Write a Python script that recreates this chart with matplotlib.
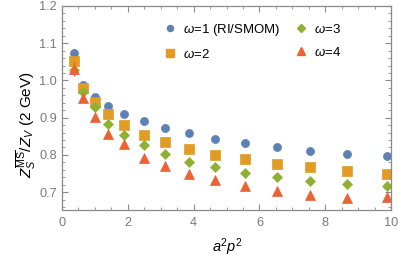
import matplotlib
matplotlib.use("Agg")
import matplotlib.pyplot as plt
from matplotlib.ticker import MultipleLocator, FormatStrFormatter
from matplotlib.lines import Line2D

plt.rcParams['font.family'] = ['Liberation Sans', 'DejaVu Sans']
plt.rcParams['mathtext.fontset'] = 'custom'
plt.rcParams['mathtext.rm'] = 'Liberation Sans'
plt.rcParams['mathtext.it'] = 'Liberation Sans:italic'
plt.rcParams['mathtext.bf'] = 'Liberation Sans:bold'

a2p2 = [0.35, 0.63, 0.99, 1.39, 1.89, 2.48, 3.12, 3.86, 4.66, 5.55, 6.52, 7.55, 8.67, 9.89]
w1 = [1.073, 0.988, 0.956, 0.931, 0.909, 0.892, 0.873, 0.859, 0.844, 0.831, 0.821, 0.811, 0.803, 0.796]
w2 = [1.052, 0.981, 0.943, 0.909, 0.879, 0.854, 0.834, 0.816, 0.801, 0.788, 0.776, 0.767, 0.758, 0.749]
w3 = [1.028, 0.970, 0.929, 0.883, 0.853, 0.826, 0.802, 0.781, 0.767, 0.751, 0.740, 0.730, 0.722, 0.716]
w4 = [1.032, 0.952, 0.901, 0.856, 0.829, 0.793, 0.771, 0.750, 0.732, 0.716, 0.703, 0.693, 0.684, 0.687]
err1 = [0.012, 0.004] + [0.0] * 12
err2 = [0.010, 0.004] + [0.0] * 12
err3 = [0.008, 0.003] + [0.0] * 12
err4 = [0.020, 0.005] + [0.0] * 12
labels = [r"$\omega$=1 (RI/SMOM)", r"$\omega$=2", r"$\omega$=3", r"$\omega$=4"]

colors = ["#5E81B5", "#E19C24", "#8FB032", "#EB6235"]
markers = ["o", "s", "D", "^"]
sizes = [5.8, 6.5, 5.2, 6.5]
leg_sizes = [4.4, 5.2, 4.2, 5.4]

fig = plt.figure(figsize=(3.99, 2.60), dpi=100)
ax = fig.add_axes([62/399, 1 - 210/260, (391-62)/399, (210-6)/260])

series = [(w1, err1), (w2, err2), (w3, err3), (w4, err4)]
for (y, e), c, m, s in zip(series, colors, markers, sizes):
    ax.errorbar(a2p2, y, yerr=e, fmt='none', ecolor=c, elinewidth=1.0, capsize=0)
    ax.plot(a2p2, y, linestyle='none', marker=m, color=c, ms=s, mec=c, mew=0.5)

ax.set_xlim(0, 10)
ax.set_ylim(0.652, 1.2)
ax.xaxis.set_major_locator(MultipleLocator(2))
ax.xaxis.set_minor_locator(MultipleLocator(0.5))
ax.yaxis.set_major_locator(MultipleLocator(0.1))
ax.yaxis.set_minor_locator(MultipleLocator(0.02))
ax.yaxis.set_major_formatter(FormatStrFormatter("%.1f"))

gray = "#8a8a8a"
for sp in ax.spines.values():
    sp.set_color(gray)
    sp.set_linewidth(0.9)
ax.tick_params(which="both", direction="in", top=True, right=True, color=gray,
               labelcolor="#7a7a7a", labelsize=9.2)
ax.tick_params(which="major", length=4, width=0.8)
ax.tick_params(which="minor", length=2, width=0.6)
ax.tick_params(axis="x", pad=5)
ax.tick_params(axis="y", pad=3.5)

fig.text(227/399, 1 - 247/260, r"$a^2p^2$", fontsize=10.5, ha='center', va='center')
fig.text(26/399, 1 - 125/260, r"$Z_S^{\overline{\mathrm{MS}}}/Z_V$ (2 GeV)", fontsize=11,
         rotation=90, ha='center', va='center')

handles = [Line2D([], [], linestyle='none', marker=m, color=c, ms=s, mec=c)
           for m, c, s in zip(markers, colors, leg_sizes)]
leg = ax.legend(handles, labels, ncol=2, loc="upper left",
                bbox_to_anchor=(165/399, 1 - 22/260), bbox_transform=fig.transFigure,
                frameon=False, fontsize=9.5, borderpad=0, borderaxespad=0,
                handletextpad=0.6, columnspacing=1.1, labelspacing=0.75,
                handlelength=0.8)

fig.savefig("out.png", dpi=100)
